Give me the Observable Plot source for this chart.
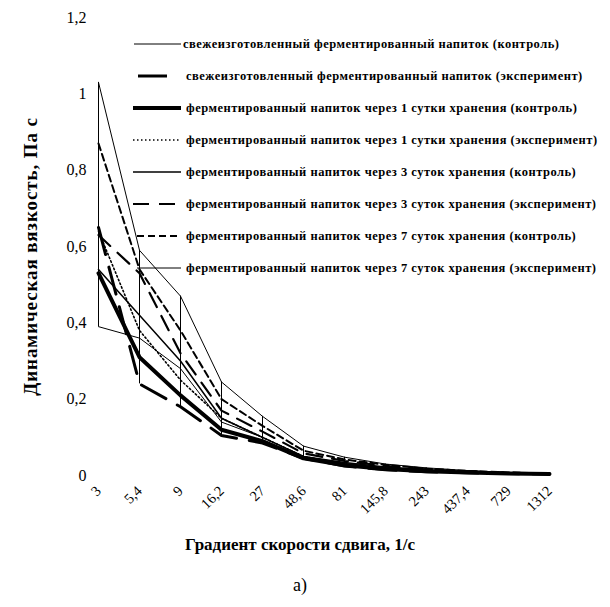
<!DOCTYPE html>
<html><head><meta charset="utf-8">
<script src="https://cdn.jsdelivr.net/npm/d3@7"></script>
<script src="https://cdn.jsdelivr.net/npm/@observablehq/plot@0.6"></script>
<style>
body{margin:0;background:#fff}
#chart{width:610px;height:607px}
</style>
</head><body><div id="chart"></div>
<script>
// Shear-rate categories (1/s)
const shearRates = ["3","5,4","9","16,2","27","48,6","81","145,8","243","437,4","729","1312"];
const yTicks = [0, 0.2, 0.4, 0.6, 0.8, 1, 1.2];
const seriesNames = [
  "свежеизготовленный ферментированный напиток (контроль)",
  "свежеизготовленный ферментированный напиток (эксперимент)",
  "ферментированный напиток через 1 сутки хранения (контроль)",
  "ферментированный напиток через 1 сутки хранения (эксперимент)",
  "ферментированный напиток через 3 суток хранения (контроль)",
  "ферментированный напиток через 3 суток хранения (эксперимент)",
  "ферментированный напиток через 7 суток хранения (контроль)",
  "ферментированный напиток через 7 суток хранения (эксперимент)"
];
// Dynamic viscosity, Pa·s
const freshControl = [0.39, 0.36, 0.28, 0.14, 0.10, 0.05, 0.032, 0.02, 0.014, 0.01, 0.007, 0.005];
const freshExperiment = [0.65, 0.24, 0.18, 0.105, 0.085, 0.045, 0.025, 0.015, 0.01, 0.007, 0.005, 0.004];
const day1Control = [0.53, 0.31, 0.21, 0.12, 0.09, 0.045, 0.027, 0.017, 0.011, 0.008, 0.005, 0.004];
const day1Experiment = [0.64, 0.38, 0.25, 0.15, 0.10, 0.05, 0.03, 0.019, 0.012, 0.009, 0.006, 0.004];
const day3Control = [0.54, 0.42, 0.30, 0.15, 0.10, 0.05, 0.034, 0.022, 0.015, 0.01, 0.007, 0.005];
const day3Experiment = [0.63, 0.53, 0.32, 0.17, 0.115, 0.058, 0.038, 0.025, 0.016, 0.011, 0.007, 0.005];
const day7Control = [0.87, 0.54, 0.38, 0.20, 0.13, 0.065, 0.042, 0.028, 0.018, 0.012, 0.008, 0.005];
const day7Experiment = [1.03, 0.59, 0.47, 0.245, 0.155, 0.077, 0.048, 0.03, 0.02, 0.013, 0.008, 0.006];

const allSeries = [freshControl, freshExperiment, day1Control, day1Experiment,
                   day3Control, day3Experiment, day7Control, day7Experiment];
const styles = [
  {strokeWidth: 1},
  {strokeWidth: 3, strokeDasharray: "28,13"},
  {strokeWidth: 4},
  {strokeWidth: 1.6, strokeDasharray: "1.5,2.5"},
  {strokeWidth: 1.5},
  {strokeWidth: 2.2, strokeDasharray: "16,10"},
  {strokeWidth: 2, strokeDasharray: "7,4"},
  {strokeWidth: 1}
];

const table = [];
allSeries.forEach((vals, s) => vals.forEach((v, i) =>
  table.push({rate: shearRates[i], value: v, series: seriesNames[s], s})));

const font = "'Liberation Serif', 'Times New Roman', serif";
const yTitle = "Динамическая вязкость, Па с";

const lineMarks = allSeries.map((_, s) =>
  Plot.line(table.filter(d => d.s === s), {
    x: "rate", y: "value", stroke: "black", strokeLinejoin: "round", ...styles[s]
  }));

const chart = Plot.plot({
  width: 610, height: 607,
  marginLeft: 93, marginRight: 56, marginTop: 17, marginBottom: 132,
  style: {fontFamily: font, background: "#fff", color: "#000", overflow: "visible"},
  x: {type: "point", domain: shearRates, padding: 0},
  y: {domain: [0, 1.2]},
  marks: [
    Plot.ruleX(table, Plot.groupX({y1: "min", y2: "max"}, {x: "rate", y: "value", stroke: "black", strokeWidth: 1})),
    ...lineMarks,
    Plot.axisY({ticks: yTicks, tickSize: 0, tickPadding: 7, fontSize: 16, label: null,
      tickFormat: d => String(d).replace(".", ",")}),
    Plot.axisX({tickSize: 0, tickRotate: -45, tickPadding: 13, fontSize: 14.5, label: null}),
    Plot.text([yTitle], {frameAnchor: "left", dx: -63, dy: 10, rotate: -90,
      textAnchor: "middle", fontSize: 19, fontWeight: "bold", text: d => d}),
    Plot.text(["Градиент скорости сдвига, 1/с"], {frameAnchor: "bottom", dx: -24, dy: 74,
      fontSize: 17, fontWeight: "bold", text: d => d}),
    Plot.text(["а)"], {frameAnchor: "bottom", dx: -24, dy: 115, fontSize: 18, text: d => d})
  ]
});
document.getElementById("chart").appendChild(chart);

const svg = d3.select(chart);
// widen the letter spacing of the y title like the scanned original
svg.selectAll("text").filter(function() { return this.textContent === yTitle; })
  .attr("letter-spacing", 0.9);

// Legend drawn inside the plot area
const leg = svg.append("g").attr("font-family", font).attr("text-anchor", "start");
const sampleX = [[134,181],[138,167],[133,181],[133,179],[133,181],[133,181],[137,181],[137,181]];
const textX = [183,186,186,186,186,186,186,186];
seriesNames.forEach((name, i) => {
  const y = 44 + i * 32;
  const st = styles[i];
  leg.append("line").attr("x1", sampleX[i][0]).attr("x2", sampleX[i][1])
    .attr("y1", y).attr("y2", y).attr("stroke", "black")
    .attr("stroke-width", st.strokeWidth)
    .attr("stroke-dasharray", i === 1 ? null : (st.strokeDasharray || null));
  leg.append("text").attr("x", textX[i]).attr("y", y).attr("dy", "0.35em")
    .attr("text-anchor", "start")
    .attr("font-size", 12.5).attr("font-weight", "bold").attr("letter-spacing", 0.5)
    .text(name);
});
</script>
</body></html>
